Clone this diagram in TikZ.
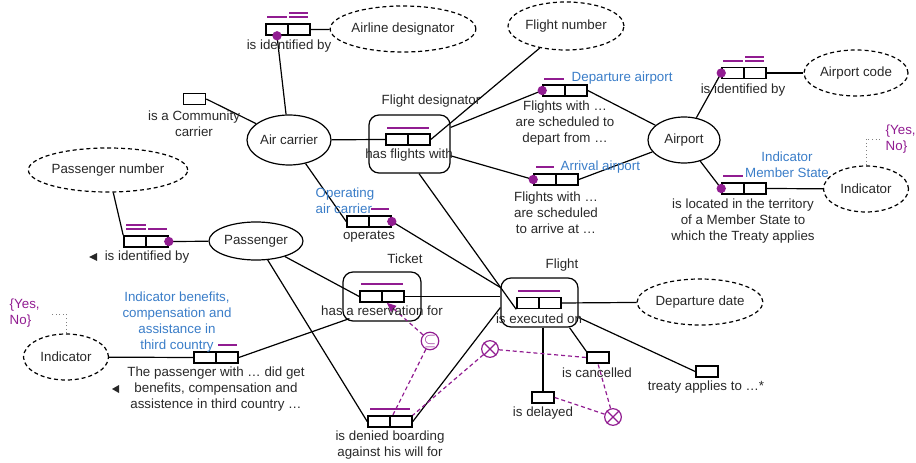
\documentclass[tikz,border=0pt]{standalone}
\usepackage{fontspec}
\setmainfont{Liberation Sans}
\usetikzlibrary{arrows.meta,shapes.geometric}
\definecolor{ormpurple}{RGB}{145,28,145}
\definecolor{ormblue}{RGB}{58,125,200}
\definecolor{ormtext}{RGB}{40,40,40}

\begin{document}
\begin{tikzpicture}[x=0.75pt,y=-0.75pt,
  every node/.style={font=\fontsize{10}{12}\selectfont, text=ormtext},
  ent/.style={draw, ellipse, line width=0.9pt, inner sep=0pt},
  val/.style={ent, dash pattern=on 3pt off 2.2pt},
  objt/.style={draw, rounded corners=7.5pt, line width=0.9pt, inner sep=0pt},
  role/.style={draw, line width=1.2pt, minimum width=16.5pt, minimum height=8.25pt, inner sep=0pt},
  conn/.style={line width=0.9pt},
  ubar/.style={draw=ormpurple, line width=1.2pt},
  mand/.style={circle, fill=ormpurple, inner sep=0pt, minimum size=7pt},
  cons/.style={draw=ormpurple, circle, line width=0.9pt, minimum size=12.5pt, inner sep=0pt},
  cline/.style={ormpurple, line width=0.9pt, dash pattern=on 3pt off 2.2pt},
  note/.style={text=ormblue, align=center},
  lbl/.style={align=center},
  enum/.style={text=ormpurple, align=left, anchor=west},
  vlink/.style={gray, line width=0.7pt, dotted},
]
\useasboundingbox (0,0) rectangle (916,463);

% ---------- entity types ----------
\node[ent, minimum width=63pt, minimum height=37.5pt] (ac) at (289,140) {Air carrier};
\node[ent, minimum width=54pt, minimum height=34.5pt] (ap) at (684,140) {Airport};
\node[ent, minimum width=70.5pt, minimum height=28.5pt] (pa) at (256,241) {Passenger};

% ---------- value types ----------
\node[val, minimum width=102.75pt, minimum height=34.5pt] (ad) at (403,29) {Airline designator};
\node[val, minimum width=87pt, minimum height=36pt] (fn) at (566,26) {Flight number};
\node[val, minimum width=78pt, minimum height=34.5pt] (acode) at (856,73) {Airport code};
\node[val, minimum width=107.25pt, minimum height=33pt] (pn) at (108,170) {Passenger number};
\node[val, minimum width=63.75pt, minimum height=34.5pt] (indR) at (866,189) {Indicator};
\node[val, minimum width=93pt, minimum height=34.5pt] (dd) at (700,302) {Departure date};
\node[val, minimum width=63.75pt, minimum height=34.5pt] (indL) at (66,357) {Indicator};

% ---------- objectified fact types ----------
\node[objt, minimum width=60.75pt, minimum height=43.5pt] (fdes) at (409.5,144) {};
\node[objt, minimum width=58.5pt, minimum height=36.75pt] (tick) at (382,296.5) {};
\node[objt, minimum width=57.75pt, minimum height=36.75pt] (flt) at (539.5,302.5) {};

% ---------- roles ----------
\node[role] (r1a) at (277,29.5) {};   \node[role] (r1b) at (299,29.5) {};
\node[role] (r2)  at (194.5,99) {};
\node[role] (r3a) at (397,139.5) {};  \node[role] (r3b) at (419,139.5) {};
\node[role] (r4a) at (554,90.5) {};   \node[role] (r4b) at (576,90.5) {};
\node[role] (r5a) at (545,179.5) {};  \node[role] (r5b) at (567,179.5) {};
\node[role] (r6a) at (733,73) {};     \node[role] (r6b) at (755,73) {};
\node[role] (r7a) at (733,188.5) {};  \node[role] (r7b) at (755,188.5) {};
\node[role] (r8a) at (358,221.5) {};  \node[role] (r8b) at (380,221.5) {};
\node[role] (r9a) at (135,241.5) {};  \node[role] (r9b) at (157,241.5) {};
\node[role] (r10a) at (371,296.5) {}; \node[role] (r10b) at (393,296.5) {};
\node[role] (r11a) at (528,303) {};   \node[role] (r11b) at (550,303) {};
\node[role] (r12a) at (379,421.5) {}; \node[role] (r12b) at (401,421.5) {};
\node[role] (r13a) at (205,357.5) {}; \node[role] (r13b) at (227,357.5) {};
\node[role] (r14) at (598,357.5) {};
\node[role] (r15) at (543,397.5) {};
\node[role] (r16) at (707,371.5) {};

% ---------- uniqueness constraints ----------
\draw[ubar] ([shift={(2,-6)}]r1a.north west) -- ([shift={(-2,-6)}]r1a.north east);
\draw[ubar] ([shift={(2,-6)}]r1b.north west) -- ([shift={(-3,-6)}]r1b.north east);
\draw[ubar] ([shift={(2,-10)}]r1b.north west) -- ([shift={(-3,-10)}]r1b.north east);
\draw[ubar] ([shift={(2,-5)}]r3a.north west) -- ([shift={(-2,-5)}]r3b.north east);
\draw[ubar] ([shift={(2,-5)}]r4a.north west) -- ([shift={(-2,-5)}]r4a.north east);
\draw[ubar] ([shift={(3,-6)}]r5a.north west) -- ([shift={(-3,-6)}]r5a.north east);
\draw[ubar] ([shift={(2,-5.5)}]r6a.north west) -- ([shift={(-2,-5.5)}]r6a.north east);
\draw[ubar] ([shift={(2,-5.5)}]r6b.north west) -- ([shift={(-3,-5.5)}]r6b.north east);
\draw[ubar] ([shift={(2,-9.5)}]r6b.north west) -- ([shift={(-3,-9.5)}]r6b.north east);
\draw[ubar] ([shift={(2,-6)}]r7a.north west) -- ([shift={(-2,-6)}]r7a.north east);
\draw[ubar] ([shift={(3,-6)}]r8b.north west) -- ([shift={(-3,-6)}]r8b.north east);
\draw[ubar] ([shift={(3,-6)}]r9a.north west) -- ([shift={(-1,-6)}]r9a.north east);
\draw[ubar] ([shift={(3,-10)}]r9a.north west) -- ([shift={(-1,-10)}]r9a.north east);
\draw[ubar] ([shift={(3,-6)}]r9b.north west) -- ([shift={(-2,-6)}]r9b.north east);
\draw[ubar] ([shift={(2,-6)}]r10a.north west) -- ([shift={(-2,-6)}]r10b.north east);
\draw[ubar] ([shift={(2,-5.5)}]r11a.north west) -- ([shift={(-2,-5.5)}]r11b.north east);
\draw[ubar] ([shift={(3,-6)}]r12a.north west) -- ([shift={(-3,-6)}]r12b.north east);
\draw[ubar] ([shift={(3,-6)}]r13b.north west) -- ([shift={(-2,-6)}]r13b.north east);

% ---------- connectors ----------
\draw[conn] (ac) -- (r1a.south);
\draw[conn] (r1b.east) -- (ad);
\draw[conn] (r2.east) -- (ac);
\draw[conn] (ac) -- (r3a.west);
\draw[conn] (r3b.east) -- (fn);
\draw[conn] (fdes) -- (r4a.west);
\draw[conn] (r4b.east) -- (ap);
\draw[conn] (fdes) -- (r5a.west);
\draw[conn] (r5b.east) -- (ap);
\draw[conn] (ap) -- (r6a.west);
\draw[conn] (r6b.east) -- (acode);
\draw[conn] (ap) -- (r7a.west);
\draw[conn] (r7b.east) -- (indR);
\draw[conn] (ac) -- (r8a.west);
\draw[conn] (r8b.east) -- ([shift={(0,-15)}]flt.west);
\draw[conn] (pn) -- (r9a.north west);
\draw[conn] (pa) -- (r9b.east);
\draw[conn] (pa) -- (r10a.west);
\draw[conn] (r10b.east) -- (r10b.east -| flt.west);
\draw[conn] ([shift={(9.5,0)}]fdes.south) -- (r11a.south west);
\draw[conn] (r11b.east) -- (dd);
\draw[conn] (pa) -- (r12a.west);
\draw[conn] (r12b.east) -- ([shift={(0,5)}]flt.west);
\draw[conn] (r13a.west) -- (indL);
\draw[conn] (r13b.east) -- ([shift={(7,-3)}]tick.south west);
\draw[conn] ([shift={(30,0)}]flt.south) -- (r14.north west);
\draw[conn] (flt.south -| r15.north) -- (r15.north);
\draw[conn] ([shift={(0,15)}]flt.east) -- (r16.west);

% ---------- mandatory role dots ----------
\node[mand] (m1) at (r1a.south) {};
\node[mand] (m4) at (r4a.west) {};
\node[mand] (m5) at (r5a.west) {};
\node[mand] (m6) at (r6a.west) {};
\node[mand] (m7) at (r7a.west) {};
\node[mand] (m8) at (r8b.east) {};
\node[mand] (m9) at (r9b.east) {};

% ---------- value constraints ----------
\node[enum] (ynRt) at (881,139) {\{Yes,\\No\}};
\coordinate (ynR) at (880,139);
\draw[vlink] (indR.north) |- (ynR);
\node[enum] (ynLt) at (5,313) {\{Yes,\\No\}};
\coordinate (ynL) at (50,314);
\draw[vlink] (indL.north) |- (ynL);

% ---------- subset and exclusion constraints ----------
\node[cons, text=ormpurple, font=\large] (sub) at (430,341) {$\subseteq$};
\node[cons] (xa) at (490,349) {};
\node[cons] (xb) at (613,417) {};
\draw[ormpurple, line width=0.9pt] (xa.north west) -- (xa.south east) (xa.north east) -- (xa.south west);
\draw[ormpurple, line width=0.9pt] (xb.north west) -- (xb.south east) (xb.north east) -- (xb.south west);
\draw[cline, -{Triangle[length=7pt,width=6pt]}] (sub) -- ([shift={(4,0)}]r10a.south east);
\draw[cline] (sub) -- ([shift={(2,0)}]r12a.north east);
\draw[cline] (xa) -- (r12b.north east);
\draw[cline] (xa) -- (r14.west);
\draw[cline] (xb) -- (r14.south);
\draw[cline] (xb) -- (r15.east);

% ---------- reading arrows ----------
\fill[ormtext] (89,257) -- (97,253) -- (97,261) -- cycle;
\fill[ormtext] (112,389) -- (119,385) -- (119,393) -- cycle;

% ---------- labels ----------
\node (t1) at (289,46) {is identified by};
\node[lbl] (t2) at (194,124) {is a Community\\carrier};
\node (t3) at (431,101) {Flight designator};
\node (t4) at (409,155) {has flights with};
\node[lbl] (t5) at (565,123) {Flights with …\\are scheduled to\\depart from …};
\node[note, anchor=west] (t6) at (567,78) {Departure airport};
\node[note, anchor=west] (t7) at (556,167) {Arrival airport};
\node[lbl] (t8) at (556,213) {Flights with …\\are scheduled\\to arrive at …};
\node (t9) at (743,90) {is identified by};
\node[note] (t10) at (787,165) {Indicator\\Member State};
\node[lbl] (t11) at (743,221) {is located in the territory\\of a Member State to\\which the Treaty applies};
\node[note, align=left, anchor=west] (t13) at (311,201) {Operating\\air carrier};
\node (t14) at (369,237) {operates};
\node (t15) at (405,259) {Ticket};
\node (t16) at (562,265) {Flight};
\node (t17) at (382,311) {has a reservation for};
\node (t18) at (539,319) {is executed on};
\node (t19) at (147,257) {is identified by};
\node[note] (t20) at (177,322) {Indicator benefits,\\compensation and\\assistance in\\third country};
\node[lbl] (t21) at (216,389.5) {The passenger with … did get\\benefits, compensation and\\assistence in third country …};
\node[lbl] (t23) at (390,445.5) {is denied boarding\\against his will for};
\node (t24) at (597,373) {is cancelled};
\node (t25) at (543,413) {is delayed};
\node (t26) at (706,387) {treaty applies to …*};
\end{tikzpicture}
\end{document}
